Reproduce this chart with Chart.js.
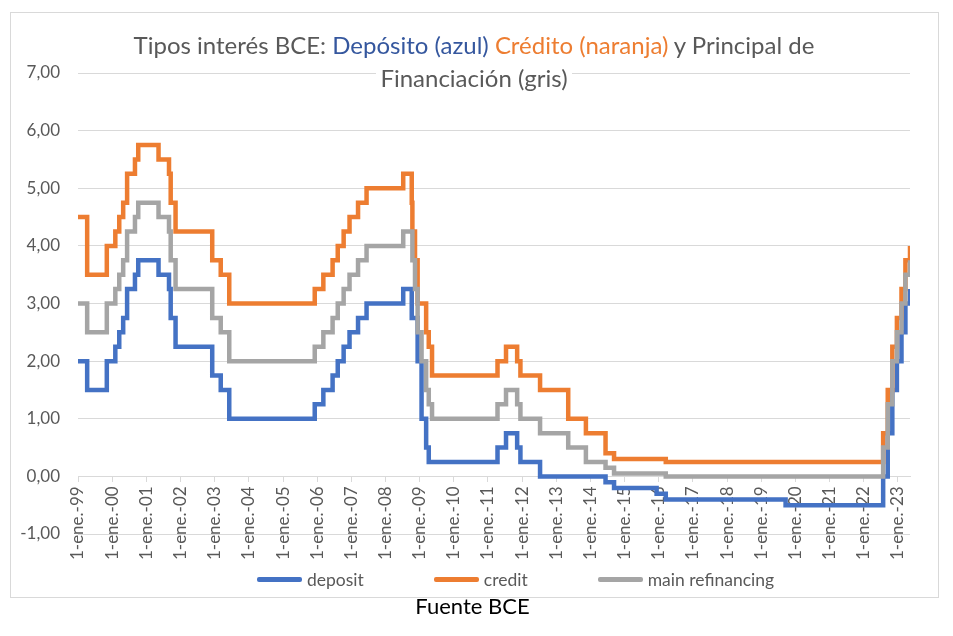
<!DOCTYPE html>
<html lang="es">
<head>
<meta charset="utf-8">
<title>Tipos interés BCE</title>
<script src="https://cdn.jsdelivr.net/npm/chart.js@4.4.1/dist/chart.umd.min.js"></script>
<style>
  html, body { margin: 0; padding: 0; background: #fff; }
  #wrap { position: relative; width: 953px; height: 636px; font-family: Lato, 'Open Sans', sans-serif; }
  #frame { position: absolute; left: 10px; top: 12px; width: 929px; height: 586px; border: 1px solid #d9d9d9; box-sizing: border-box; }
  canvas { position: absolute; left: 0; top: 0; }
  #title { position: absolute; left: 0; width: 948px; top: 28px; text-align: center; font-size: 24px; line-height: 33px; color: #595959; }
  #title .l2 { background: #fff; padding: 0 4px; }
  #legend { position: absolute; left: 257px; top: 569px; display: flex; gap: 70px; font-size: 17.5px; color: #595959; }
  #legend .item { display: flex; align-items: center; }
  #legend .swatch { width: 45px; height: 5px; border-radius: 2px; margin-right: 5px; }
  #source { position: absolute; left: 0; width: 945px; top: 592px; text-align: center; font-size: 22px; color: #000; }
</style>
</head>
<body>
<div id="wrap">
  <div id="frame"></div>
  <canvas id="chart" width="953" height="636"></canvas>
  <div id="title">Tipos interés BCE: <span style="color:#35579e">Depósito (azul)</span> <span style="color:#ed7d31">Crédito (naranja)</span> y Principal de<br><span class="l2">Financiación (gris)</span></div>
  <div id="legend"></div>
  <div id="source">Fuente BCE</div>
</div>
<script>
// ECB rate changes (date the new rate applies)
const changeDates = [
  '1999-01-01', '1999-04-09', '1999-11-05', '2000-02-04', '2000-03-17', '2000-04-28',
  '2000-06-09', '2000-09-01', '2000-10-06', '2001-05-11', '2001-08-31', '2001-09-18',
  '2001-11-09', '2002-12-06', '2003-03-07', '2003-06-06', '2005-12-06', '2006-03-08',
  '2006-06-15', '2006-08-09', '2006-10-11', '2006-12-13', '2007-03-14', '2007-06-13',
  '2008-07-09', '2008-10-08', '2008-10-15', '2008-11-12', '2008-12-10', '2009-01-21',
  '2009-03-11', '2009-04-08', '2009-05-13', '2011-04-13', '2011-07-13', '2011-11-09',
  '2011-12-14', '2012-07-11', '2013-05-08', '2013-11-13', '2014-06-11', '2014-09-10',
  '2015-12-09', '2016-03-16', '2019-09-18', '2022-07-27', '2022-09-14', '2022-11-02',
  '2022-12-21', '2023-02-08', '2023-03-22', '2023-05-10'
];
const deposit = [
  2.00, 1.50, 2.00, 2.25, 2.50, 2.75,
  3.25, 3.50, 3.75, 3.50, 3.25, 2.75,
  2.25, 1.75, 1.50, 1.00, 1.25, 1.50,
  1.75, 2.00, 2.25, 2.50, 2.75, 3.00,
  3.25, 2.75, 2.75, 2.75, 2.00, 1.00,
  0.50, 0.25, 0.25, 0.50, 0.75, 0.50,
  0.25, 0.00, 0.00, 0.00, -0.10, -0.20,
  -0.30, -0.40, -0.50, 0.00, 0.75, 1.50,
  2.00, 2.50, 3.00, 3.25
];
const credit = [
  4.50, 3.50, 4.00, 4.25, 4.50, 4.75,
  5.25, 5.50, 5.75, 5.50, 5.25, 4.75,
  4.25, 3.75, 3.50, 3.00, 3.25, 3.50,
  3.75, 4.00, 4.25, 4.50, 4.75, 5.00,
  5.25, 4.75, 4.25, 3.75, 3.00, 3.00,
  2.50, 2.25, 1.75, 2.00, 2.25, 2.00,
  1.75, 1.50, 1.00, 0.75, 0.40, 0.30,
  0.30, 0.25, 0.25, 0.75, 1.50, 2.25,
  2.75, 3.25, 3.75, 4.00
];
const mainRefinancing = [
  3.00, 2.50, 3.00, 3.25, 3.50, 3.75,
  4.25, 4.50, 4.75, 4.50, 4.25, 3.75,
  3.25, 2.75, 2.50, 2.00, 2.25, 2.50,
  2.75, 3.00, 3.25, 3.50, 3.75, 4.00,
  4.25, 4.25, 3.75, 3.25, 2.50, 2.00,
  1.50, 1.25, 1.00, 1.25, 1.50, 1.25,
  1.00, 0.75, 0.50, 0.25, 0.15, 0.05,
  0.05, 0.00, 0.00, 0.50, 1.25, 2.00,
  2.50, 3.00, 3.50, 3.75
];
const seriesNames = ['deposit', 'credit', 'main refinancing'];
const seriesColors = ['#4472c4', '#ed7d31', '#a5a5a5'];
const firstYear = 1999;
const lastYear = 2023;

const DAY = 86400000;
const toDay = s => Date.parse(s) / DAY;
const toPoints = values => changeDates.map((d, i) => ({ x: toDay(d), y: values[i] }));

// builds the legend below the chart from the datasets
const htmlLegend = {
  id: 'htmlLegend',
  afterUpdate(chart) {
    const box = document.getElementById('legend');
    box.innerHTML = '';
    chart.data.datasets.forEach(ds => {
      const item = document.createElement('div');
      item.className = 'item';
      const sw = document.createElement('span');
      sw.className = 'swatch';
      sw.style.background = ds.borderColor;
      const txt = document.createElement('span');
      txt.textContent = ds.label;
      item.appendChild(sw);
      item.appendChild(txt);
      box.appendChild(item);
    });
  }
};

const ctx = document.getElementById('chart').getContext('2d');
new Chart(ctx, {
  type: 'line',
  data: {
    datasets: [deposit, credit, mainRefinancing].map((vals, i) => ({
      label: seriesNames[i],
      data: toPoints(vals),
      borderColor: seriesColors[i],
      backgroundColor: seriesColors[i],
      borderWidth: 4.5,
      stepped: 'before',
      pointRadius: 0,
      fill: false,
      order: 3 - i
    }))
  },
  options: {
    responsive: false,
    animation: false,
    layout: { padding: { left: 0, top: 73, right: 43, bottom: 102 } },
    plugins: {
      legend: { display: false },
      title: { display: false },
      tooltip: { enabled: false }
    },
    scales: {
      x: {
        type: 'linear',
        position: { y: 0 },
        min: toDay(firstYear + '-01-01'),
        max: toDay(changeDates[changeDates.length - 1]),
        afterBuildTicks: scale => {
          const t = [];
          for (let y = firstYear; y <= lastYear; y++) t.push({ value: toDay(y + '-01-01') });
          scale.ticks = t;
        },
        grid: { drawOnChartArea: false, drawTicks: true, tickLength: 5, color: '#d9d9d9' },
        border: { display: true, color: '#d9d9d9' },
        ticks: {
          autoSkip: false,
          minRotation: 90,
          maxRotation: 90,
          padding: 5,
          color: '#595959',
          font: { family: 'Lato', size: 17 },
          callback: v => '1-ene.-' + String(new Date(v * DAY).getUTCFullYear()).slice(2)
        }
      },
      y: {
        min: -1,
        max: 7,
        afterFit: s => { s.width = 78; },
        grid: { color: '#d9d9d9', drawTicks: false },
        border: { display: false },
        ticks: {
          stepSize: 1,
          padding: 18,
          color: '#595959',
          font: { family: 'Lato', size: 17 },
          callback: v => v.toFixed(2).replace('.', ',')
        }
      }
    }
  },
  plugins: [htmlLegend]
});
</script>
</body>
</html>
